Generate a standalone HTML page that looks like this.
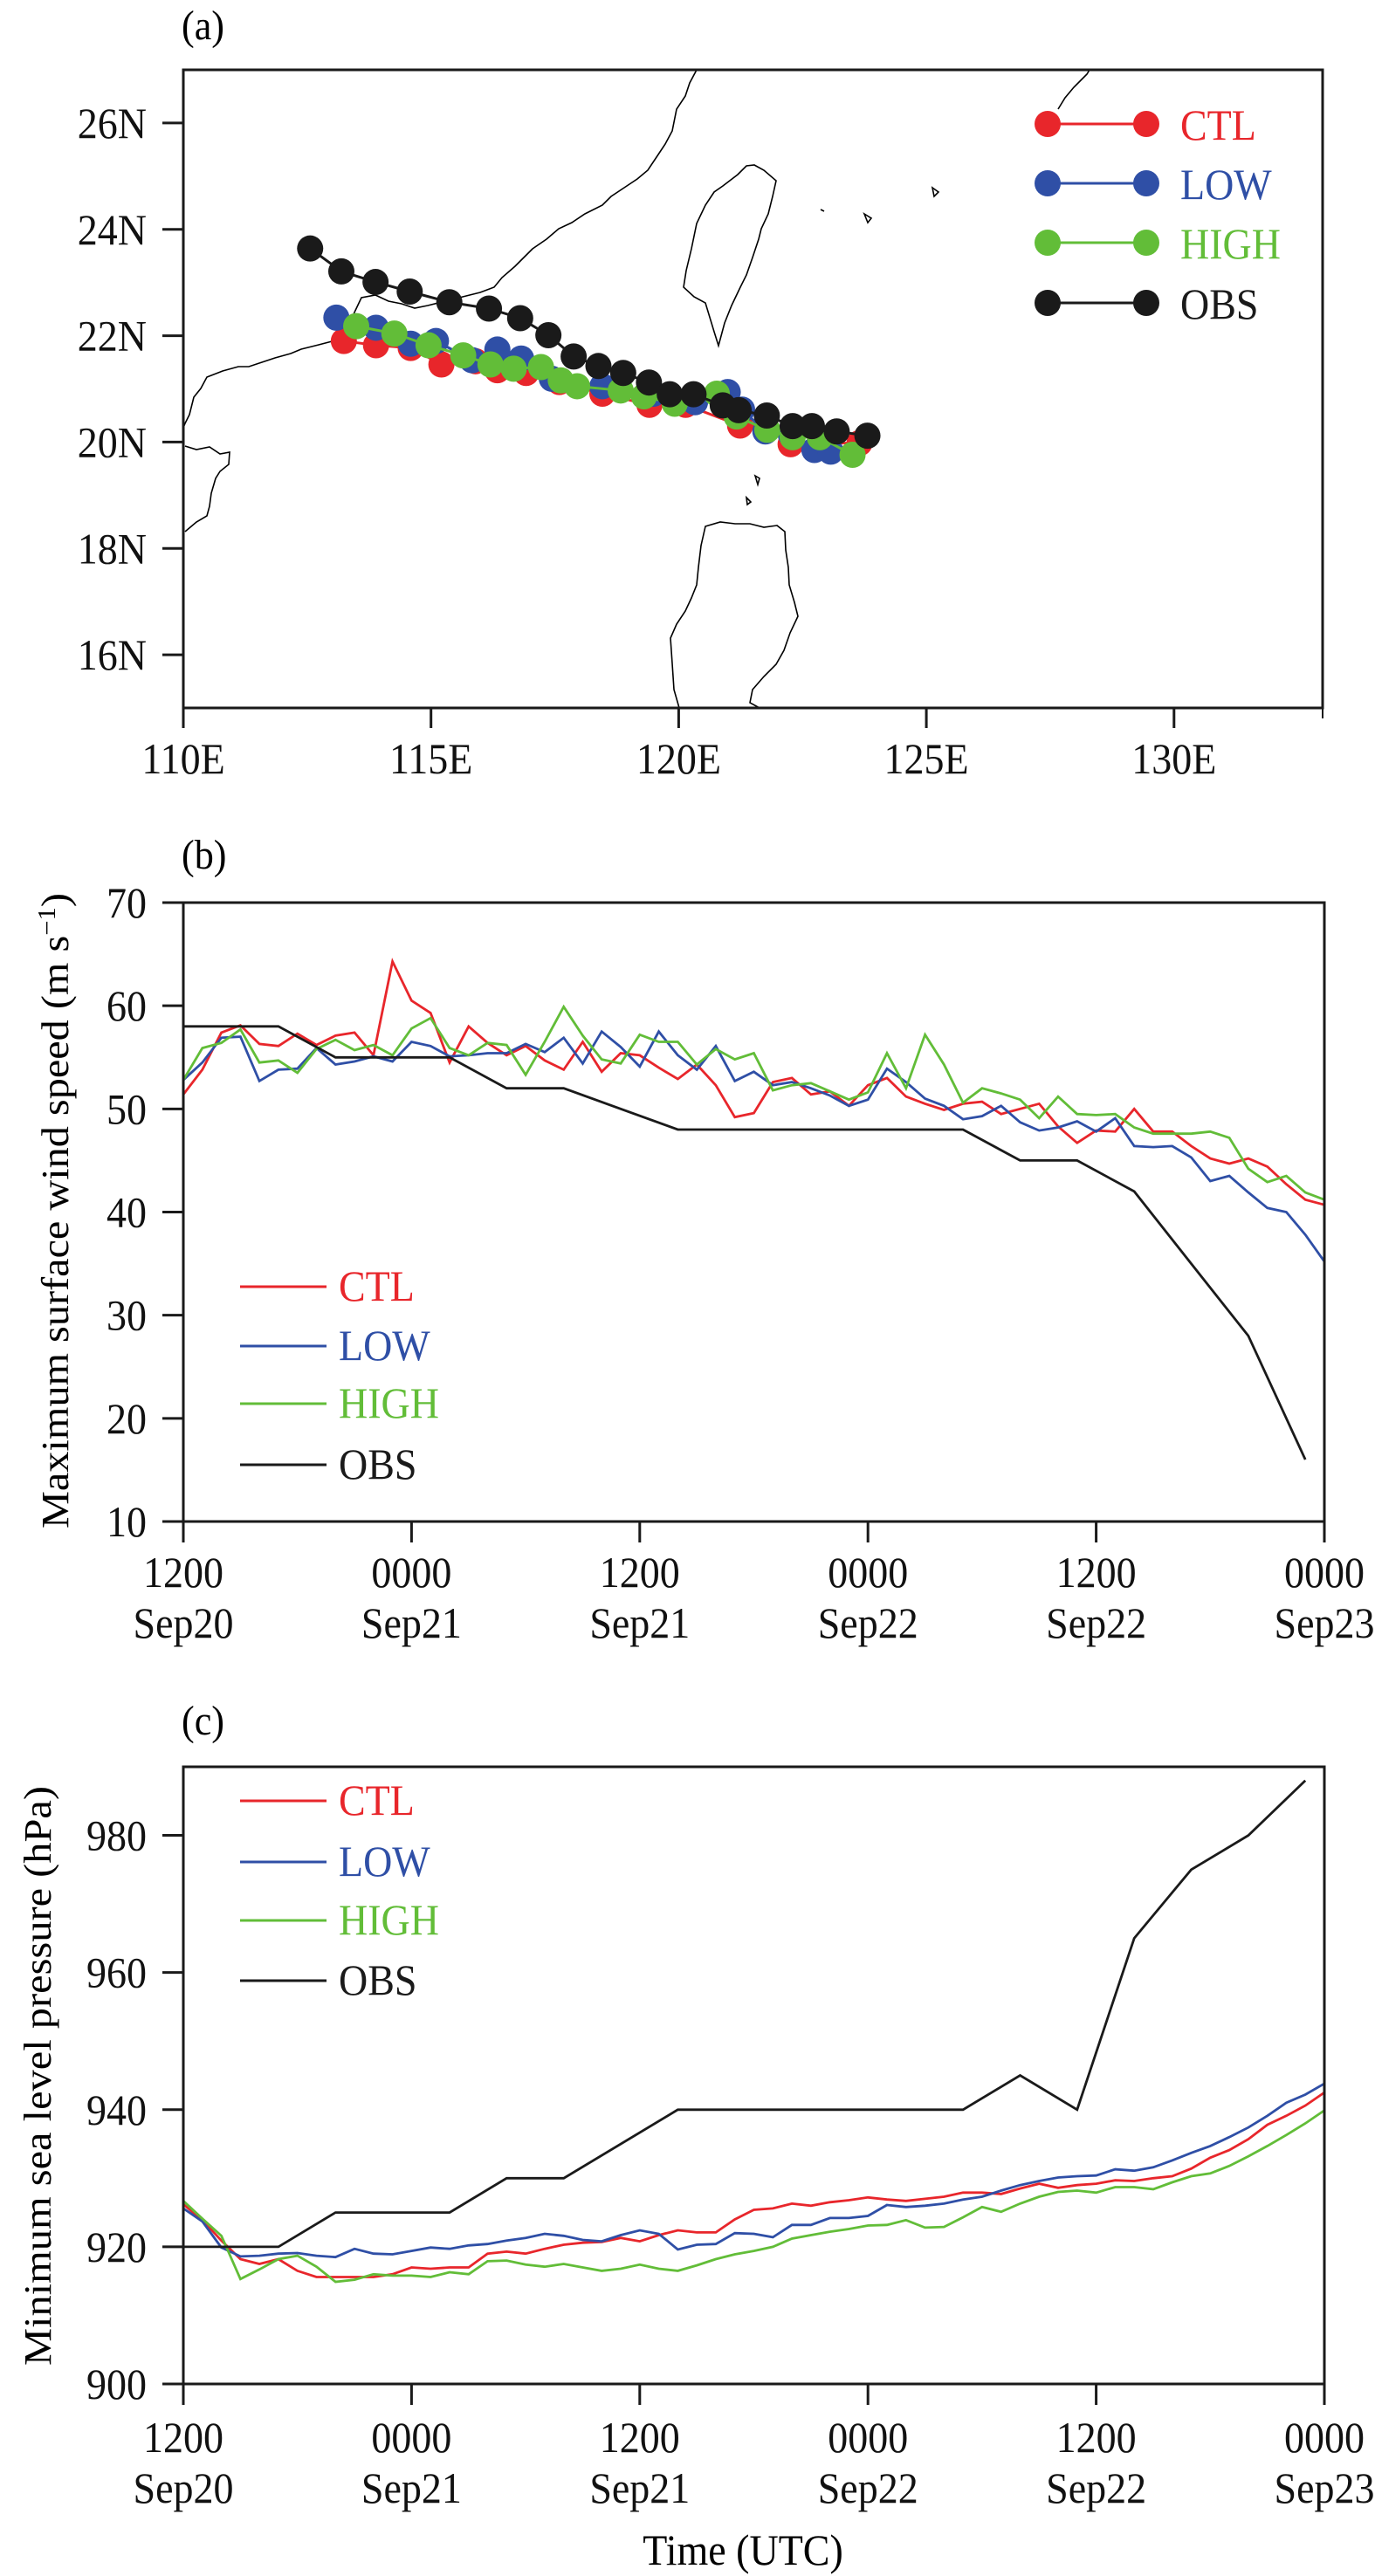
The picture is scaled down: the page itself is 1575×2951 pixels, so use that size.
<!DOCTYPE html>
<html><head><meta charset="utf-8"><title>Typhoon track, intensity and pressure</title>
<style>
html,body{margin:0;padding:0;background:#fff;}
svg{display:block;font-family:"Liberation Serif","Times New Roman",serif;}
</style></head>
<body>
<svg id="fig" xmlns="http://www.w3.org/2000/svg" width="1575" height="2951" viewBox="0 0 1575 2951">
<rect x="0" y="0" width="1575" height="2951" fill="#fff"/>
<g id="pa">
 <text transform="translate(208,45) scale(0.92,1)" font-size="48">(a)</text>
 <g fill="none" stroke="#000" stroke-width="1.6">
  <path d="M798,80 L790,95 L785,110 L775,125 L770,150 L762,165 L752,180 L742,195 L730,205 L715,215 L700,225 L690,235 L670,245 L655,255 L640,262 L626,274 L610,285 L600,295 L590,305 L575,318 L566,329 L550,335 L530,340 L510,345 L490,350 L475,353 L460,348 L445,345 L430,338 L414,341 L405,360 L395,375 L384,390 L365,395 L345,400 L333,405 L315,410 L300,415 L285,420 L273,420 L255,425 L237,432 L230,445 L222,455 L217,475 L212,485 L210,490"/>
  <path d="M212,511 L225,515 L240,512 L252,520 L263,518 L262,532 L252,540 L247,548 L242,565 L240,580 L237,591 L225,598 L212,609"/>
  <path d="M864,189 L875,195 L889,207 L885,225 L880,245 L872,262 L869,274 L862,295 L855,315 L848,329 L838,350 L830,370 L823,396 L818,380 L808,347 L795,340 L783,329 L786,310 L792,285 L798,256 L808,235 L818,220 L828,213 L845,200 L855,190 Z"/>
  <path d="M778,811 L772,790 L770,760 L768,731 L775,715 L785,700 L792,685 L798,670 L800,650 L803,625 L808,603 L825,598 L842,600 L859,600 L875,604 L890,602 L899,609 L900,630 L903,650 L904,670 L910,690 L914,706 L905,725 L898,745 L889,761 L875,775 L862,790 L859,805 L870,811"/>
  <path d="M1212,125 L1220,112 L1230,100 L1238,92 L1245,85 L1248,80"/>
  <path d="M1068,215 L1075,220 L1070,225 Z M990,245 L998,250 L994,255 Z M940,240 L944,242"/>
  <path d="M865,545 L870,548 L868,555 Z M855,570 L860,575 L856,578 Z"/>
 </g>
 <g id="pa-marks"></g>
 <rect x="210" y="80" width="1305" height="731" fill="none" stroke="#1a1a1a" stroke-width="3"/>
 <g id="pa-axes"></g>
 <g id="pa-legend"></g>
</g>
<g id="pb">
 <text transform="translate(208,995) scale(0.92,1)" font-size="48">(b)</text>
 <text transform="translate(78,1387) rotate(-90)" text-anchor="middle" font-size="44" textLength="728" lengthAdjust="spacingAndGlyphs">Maximum surface wind speed (m s<tspan baseline-shift="super" font-size="28">−1</tspan>)</text>
 <g id="pb-marks"></g>
 <rect x="210" y="1034" width="1307" height="709" fill="none" stroke="#1a1a1a" stroke-width="3"/>
 <g id="pb-axes"></g>
 <g id="pb-legend"></g>
</g>
<g id="pc">
 <text transform="translate(208,1987) scale(0.92,1)" font-size="48">(c)</text>
 <text transform="translate(58,2378) rotate(-90)" text-anchor="middle" font-size="44" textLength="664" lengthAdjust="spacingAndGlyphs">Minimum sea level pressure (hPa)</text>
 <g id="pc-marks"></g>
 <rect x="210" y="2024" width="1307" height="707" fill="none" stroke="#1a1a1a" stroke-width="3"/>
 <g id="pc-axes"></g>
 <g id="pc-legend"></g>
 <text transform="translate(851,2938) scale(0.92,1)" text-anchor="middle" font-size="50">Time (UTC)</text>
</g>
</svg>
<script>
// ---------- Panel (a) track data ----------
const obsLon = [112.56,113.19,113.88,114.57,115.37,116.17,116.80,117.37,117.88,118.38,118.88,119.40,119.82,120.30,120.89,121.21,121.78,122.30,122.69,123.19,123.81];
const obsLat = [23.64,23.21,23.01,22.83,22.63,22.51,22.33,22.01,21.61,21.43,21.30,21.12,20.90,20.90,20.69,20.60,20.50,20.30,20.30,20.20,20.12];
const ctlLon = [113.24,113.89,114.59,115.21,115.90,116.34,116.92,117.59,118.46,119.41,120.14,121.24,121.75,122.26,122.92,123.65];
const ctlLat = [21.90,21.82,21.77,21.46,21.52,21.35,21.30,21.13,20.91,20.70,20.70,20.31,20.31,19.96,19.98,19.98];
const lowLon = [113.09,113.89,114.59,115.10,115.83,116.34,116.82,117.44,118.46,119.49,120.33,120.99,121.28,121.75,122.26,122.74,123.07];
const lowLat = [22.34,22.15,21.85,21.90,21.54,21.74,21.57,21.19,21.05,20.91,20.75,20.94,20.61,20.20,20.15,19.85,19.82];
const highLon = [113.49,114.26,114.95,115.65,116.20,116.67,117.22,117.62,117.95,118.83,119.30,119.92,120.77,121.17,121.79,122.30,122.85,123.51];
const highLat = [22.18,22.04,21.82,21.63,21.46,21.38,21.41,21.16,21.05,20.97,20.86,20.72,20.91,20.48,20.23,20.09,20.09,19.76];
const latTicks = [16,18,20,22,24,26];
const latTickLabels = ["16N","18N","20N","22N","24N","26N"];
const lonTicks = [110,115,120,125,130];
const lonTickLabels = ["110E","115E","120E","125E","130E"];

// ---------- Panels (b)/(c) time series ----------
const timeTickHours = [0,12,24,36,48,60];
const timeTickRow1 = ["1200","0000","1200","0000","1200","0000"];
const timeTickRow2 = ["Sep20","Sep21","Sep21","Sep22","Sep22","Sep23"];
const windTicks = [10,20,30,40,50,60,70];
const presTicks = [900,920,940,960,980];
const windCtl = [51.4,53.8,57.4,58.1,56.3,56.1,57.3,56.2,57.1,57.4,55.2,64.3,60.5,59.3,54.5,58.0,56.4,55.2,56.1,54.7,53.8,56.5,53.6,55.4,55.2,54.0,52.9,54.3,52.3,49.2,49.6,52.6,53.0,51.4,51.7,50.3,52.3,53.0,51.2,50.5,49.9,50.5,50.7,49.5,50.0,50.5,48.3,46.7,47.9,47.8,50.0,47.8,47.8,46.4,45.2,44.7,45.2,44.4,42.7,41.2,40.7];
const windLow = [52.8,54.5,56.9,57.0,52.7,53.8,53.9,55.9,54.3,54.6,55.1,54.6,56.5,56.1,55.1,55.2,55.4,55.4,56.3,55.5,56.9,54.4,57.5,56.0,54.1,57.5,55.2,53.8,56.1,52.7,53.6,52.3,52.6,52.0,51.3,50.3,50.9,53.9,52.6,51.0,50.3,49.0,49.3,50.3,48.7,47.9,48.2,48.8,47.8,49.1,46.4,46.3,46.4,45.3,43.0,43.5,41.9,40.4,40.0,37.8,35.2];
const windHigh = [52.8,55.9,56.4,57.7,54.5,54.7,53.5,55.8,56.7,55.7,56.2,55.2,57.8,58.8,55.9,55.2,56.4,56.2,53.3,56.5,59.9,57.1,54.8,54.4,57.2,56.5,56.5,54.3,55.8,54.8,55.4,51.8,52.3,52.5,51.7,50.9,51.6,55.4,52.0,57.2,54.3,50.6,52.0,51.5,50.9,49.1,51.2,49.5,49.4,49.5,48.2,47.6,47.6,47.6,47.8,47.2,44.2,42.9,43.5,41.9,41.2];
const obsHours = [0,5,8,14,17,20,26,41,44,47,50,53,56,59];
const windObs = [58,58,55,55,52,52,48,48,45,45,42,35,28,16];
const presObs = [920,920,925,925,930,930,940,940,945,940,965,975,980,988];
const presCtl = [926.2,923.9,920.9,918.2,917.5,918.2,916.5,915.6,915.6,915.6,915.6,916.0,917.0,916.8,917.0,917.0,919.0,919.3,919.0,919.7,920.3,920.6,920.7,921.3,920.8,921.7,922.4,922.1,922.1,924.0,925.4,925.6,926.3,926.0,926.5,926.8,927.2,926.9,926.7,927.0,927.3,927.9,927.9,927.7,928.5,929.2,928.6,929.0,929.2,929.7,929.6,930.0,930.3,931.4,933.0,934.1,935.7,937.8,939.1,940.6,942.5];
const presLow = [925.6,923.7,919.9,918.6,918.7,919.0,919.1,918.7,918.5,919.7,919.0,918.9,919.4,919.9,919.7,920.2,920.4,920.9,921.3,921.9,921.6,921.0,920.8,921.7,922.4,921.9,919.6,920.3,920.4,922.0,921.9,921.4,923.2,923.2,924.2,924.2,924.5,926.1,925.8,926.0,926.3,926.9,927.3,928.2,929.0,929.6,930.1,930.3,930.4,931.3,931.1,931.6,932.6,933.7,934.7,936.0,937.4,939.1,941.0,942.2,943.8];
const presHigh = [926.7,924.1,921.6,915.3,916.7,918.2,918.7,917.1,914.9,915.2,916.0,915.8,915.8,915.6,916.3,916.0,917.9,918.0,917.4,917.1,917.5,917.0,916.5,916.8,917.4,916.8,916.5,917.3,918.2,918.9,919.4,920.0,921.2,921.7,922.2,922.6,923.1,923.2,923.9,922.8,922.9,924.3,925.8,925.1,926.3,927.3,928.0,928.2,927.9,928.7,928.7,928.4,929.4,930.3,930.7,931.8,933.2,934.7,936.3,938.0,939.9];

const NS = "http://www.w3.org/2000/svg";
const COL = {CTL:"#e8262b", LOW:"#2f4fa6", HIGH:"#62bd38", OBS:"#1a1a1a"};
function mk(tag, parent, attrs){const e=document.createElementNS(NS,tag);for(const k in attrs)e.setAttribute(k,attrs[k]);parent.appendChild(e);return e;}
function txt(parent, x, y, s, anchor, fill){
  const t = mk('text', parent, {transform:'translate('+x+','+y+') scale(0.92,1)', 'text-anchor':anchor, 'font-size':50, fill:fill||'#111'});
  t.textContent = s;
  return t;
}

// axis functions
const lonX = v => 210 + (v-110)*(1305/23);
const latY = v => 811 - (v-15)*(731/12);
const tX = h => 210 + h*(1307/60);
const windY = v => 1743 - (v-10)*(709/60);
const presY = v => 2731 - (v-900)*(707/90);

// ---- panel a ----
const paM = document.getElementById('pa-marks');
function track(lons, lats, col, nm){
  const g = mk('g', paM, {});
  
  
  const pts = lons.map((v,i)=>lonX(v).toFixed(1)+','+latY(lats[i]).toFixed(1)).join(' ');
  const pl = mk('polyline', g, {points:pts, fill:'none', stroke:col, 'stroke-width':3});
  
  
  lons.forEach((v,i)=>{
    const c = mk('circle', g, {cx:lonX(v), cy:latY(lats[i]), r:15, fill:col});
    
    
  });
}
track(ctlLon, ctlLat, COL.CTL, 'ctl');
track(lowLon, lowLat, COL.LOW, 'low');
track(highLon, highLat, COL.HIGH, 'high');
track(obsLon, obsLat, COL.OBS, 'obs');

const paA = document.getElementById('pa-axes');
latTicks.forEach((v,i)=>{
  const y = latY(v);
  const l = mk('line', paA, {x1:186, x2:210, y1:y, y2:y, stroke:'#1a1a1a','stroke-width':3});
  
  
  const t = txt(paA, 168, y+17, latTickLabels[i], 'end');
  
  
});
lonTicks.forEach((v,i)=>{
  const x = lonX(v);
  const l = mk('line', paA, {x1:x, x2:x, y1:811, y2:834, stroke:'#1a1a1a','stroke-width':3});
  
  
  const t = txt(paA, x, 886, lonTickLabels[i], 'middle');
  
  
});
const edgeTick = mk('line', paA, {x1:lonX(133), x2:lonX(133), y1:811, y2:823, stroke:'#1a1a1a','stroke-width':2});


const paL = document.getElementById('pa-legend');
[['CTL',142],['LOW',210],['HIGH',278],['OBS',347]].forEach(([n,y])=>{
  const g = mk('g', paL, {});
  
  
  mk('line', g, {x1:1200, x2:1313, y1:y, y2:y, stroke:COL[n], 'stroke-width':3});
  mk('circle', g, {cx:1200, cy:y, r:15, fill:COL[n]});
  mk('circle', g, {cx:1313, cy:y, r:15, fill:COL[n]});
  txt(g, 1352, y+18, n, 'start', COL[n]);
});

// ---- time axes helper ----
function timeAxes(gid, bottom, yTicks, yFn, row1y, row2y){
  const g = document.getElementById(gid);
  yTicks.forEach(v=>{
    const y = yFn(v);
    const l = mk('line', g, {x1:186, x2:210, y1:y, y2:y, stroke:'#1a1a1a','stroke-width':3});
    
    
    const t = txt(g, 168, y+17, String(v), 'end');
    
    
  });
  timeTickHours.forEach((h,i)=>{
    const x = tX(h);
    const l = mk('line', g, {x1:x, x2:x, y1:bottom, y2:bottom+24, stroke:'#1a1a1a','stroke-width':3});
    
    
    const t1 = txt(g, x, row1y, timeTickRow1[i], 'middle');
    
    
    const t2 = txt(g, x, row2y, timeTickRow2[i], 'middle');
    
    
  });
}
function series(gid, hrs, vals, yFn, col, nm){
  const g = document.getElementById(gid);
  const pts = vals.map((v,i)=>tX(hrs[i]).toFixed(1)+','+yFn(v).toFixed(1)).join(' ');
  const pl = mk('polyline', g, {points:pts, fill:'none', stroke:col, 'stroke-width':2.8, 'stroke-linejoin':'miter'});
  
  
}
function legend(gid, ys){
  const g0 = document.getElementById(gid);
  ['CTL','LOW','HIGH','OBS'].forEach((n,i)=>{
    const g = mk('g', g0, {});
    
    
    mk('line', g, {x1:275, x2:374, y1:ys[i], y2:ys[i], stroke:COL[n], 'stroke-width':3});
    txt(g, 388, ys[i]+16, n, 'start', COL[n]);
  });
}
const hrs = windCtl.map((_,i)=>i);

timeAxes('pb-axes', 1743, windTicks, windY, 1818, 1876);
series('pb-marks', hrs, windCtl, windY, COL.CTL, 'wind-ctl-line');
series('pb-marks', hrs, windLow, windY, COL.LOW, 'wind-low-line');
series('pb-marks', hrs, windHigh, windY, COL.HIGH, 'wind-high-line');
series('pb-marks', obsHours, windObs, windY, COL.OBS, 'wind-obs-line');
legend('pb-legend', [1474,1542,1608,1678]);

timeAxes('pc-axes', 2731, presTicks, presY, 2809, 2867);
series('pc-marks', hrs, presCtl, presY, COL.CTL, 'pressure-ctl-line');
series('pc-marks', hrs, presLow, presY, COL.LOW, 'pressure-low-line');
series('pc-marks', hrs, presHigh, presY, COL.HIGH, 'pressure-high-line');
series('pc-marks', obsHours, presObs, presY, COL.OBS, 'pressure-obs-line');
legend('pc-legend', [2063,2133,2200,2269]);
</script>
</body></html>
